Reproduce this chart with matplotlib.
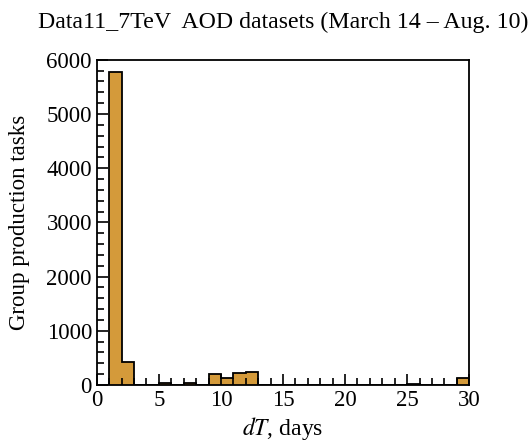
import matplotlib
matplotlib.use("Agg")
import matplotlib.pyplot as plt
from matplotlib.ticker import MultipleLocator

# dT bins (days) and counts of group production tasks
bin_edges = [1, 2, 3, 4, 5, 6, 7, 8, 9, 10, 11, 12, 13, 14, 15, 16, 17, 18, 19, 20,
             21, 22, 23, 24, 25, 26, 27, 28, 29, 30]
task_counts = [5780, 430, 8, 0, 45, 0, 30, 5, 195, 125, 215, 245,
               0, 0, 0, 0, 0, 0, 0, 0, 0, 0, 0, 0, 20, 0, 0, 0, 135]

plt.rcParams['font.family'] = ['Liberation Serif', 'DejaVu Serif']
plt.rcParams['mathtext.fontset'] = 'stix'

fig = plt.figure(figsize=(5.29, 4.43), dpi=100)
ax = fig.add_axes([0.183, 0.131, 0.704, 0.734])

ax.stairs(task_counts, bin_edges, fill=True, color='#d49a3a')
ax.stairs(task_counts, bin_edges, color='black', linewidth=1.3)

ax.set_xlim(0, 30)
ax.set_ylim(0, 6000)
ax.xaxis.set_major_locator(MultipleLocator(5))
ax.xaxis.set_minor_locator(MultipleLocator(1))
ax.yaxis.set_major_locator(MultipleLocator(1000))
ax.yaxis.set_minor_locator(MultipleLocator(200))
ax.tick_params(which='both', direction='in', top=False, right=False,
               labelsize=16.5, width=1.2)
ax.tick_params(which='major', length=8)
ax.tick_params(which='minor', length=5)
for s in ax.spines.values():
    s.set_linewidth(1.3)

ax.set_xlabel(r'$dT$, days', fontsize=17, labelpad=3)
ax.set_ylabel('Group production tasks', fontsize=16.5, labelpad=12)
fig.text(0.072, 0.95, 'Data11_7TeV  AOD datasets (March 14 \u2013 Aug. 10)',
         fontsize=17.2, ha='left', va='center')

fig.savefig('out.png', dpi=100)
